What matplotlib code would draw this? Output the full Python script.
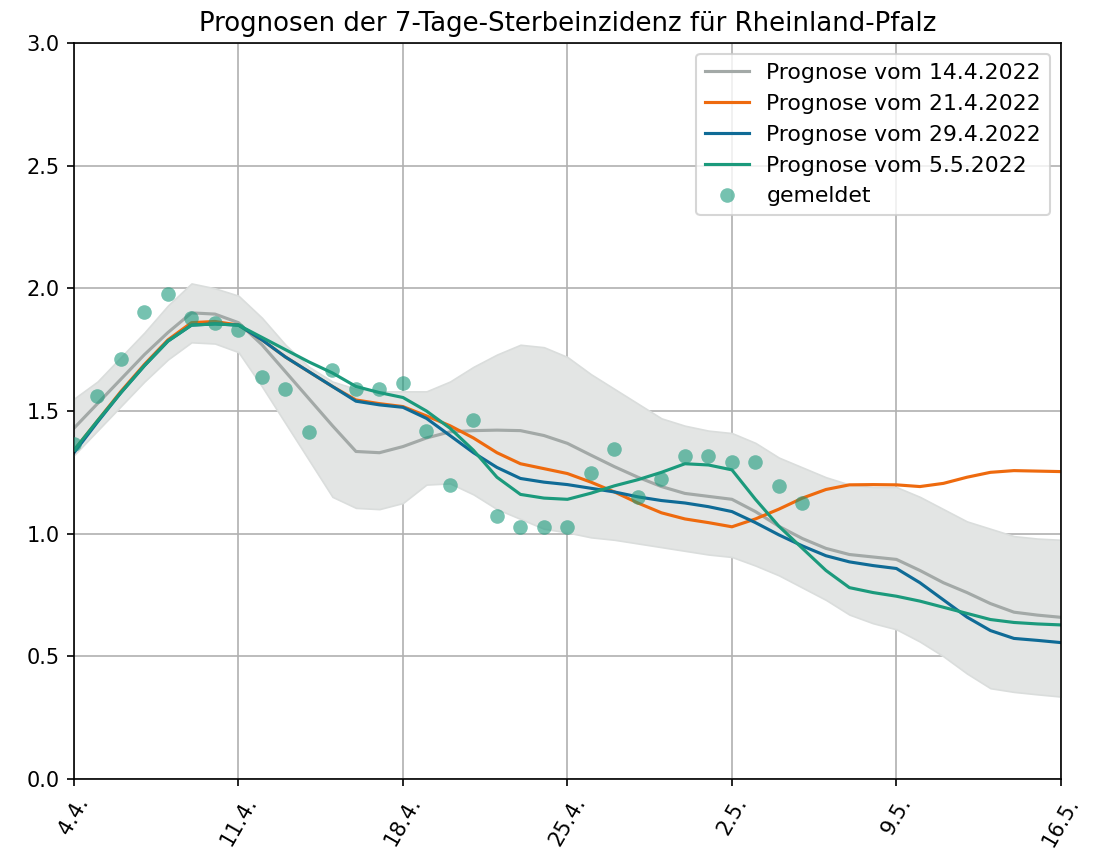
import numpy as np
import pandas as pd
import matplotlib
matplotlib.use("Agg")
import matplotlib.pyplot as plt

# days since 4.4.2022
start = pd.Timestamp("2022-04-04")
tick_labels = ["4.4.", "11.4.", "18.4.", "25.4.", "2.5.", "9.5.", "16.5."]

# gemeldete Werte (4.4. - 5.5.)
reported = [1.366, 1.56, 1.71, 1.905, 1.976, 1.88, 1.86, 1.83, 1.638, 1.589,
            1.416, 1.667, 1.589, 1.59, 1.613, 1.42, 1.197, 1.463, 1.073, 1.026,
            1.026, 1.026, 1.246, 1.345, 1.151, 1.222, 1.318, 1.318, 1.293, 1.293,
            1.195, 1.124]

prog_14 = [1.43, 1.53, 1.63, 1.73, 1.82, 1.90, 1.895, 1.86, 1.77, 1.66,
           1.55, 1.44, 1.335, 1.33, 1.355, 1.39, 1.415, 1.42, 1.422, 1.42,
           1.40, 1.368, 1.32, 1.273, 1.23, 1.192, 1.164, 1.152, 1.14, 1.09,
           1.03, 0.98, 0.94, 0.915, 0.905, 0.895, 0.85, 0.80, 0.76, 0.715,
           0.68, 0.668, 0.659]
prog_21 = [1.34, 1.46, 1.58, 1.69, 1.79, 1.86, 1.865, 1.85, 1.79, 1.72,
           1.66, 1.60, 1.545, 1.53, 1.518, 1.48, 1.44, 1.39, 1.33, 1.285,
           1.265, 1.245, 1.21, 1.17, 1.125, 1.085, 1.06, 1.045, 1.028, 1.06,
           1.10, 1.145, 1.18, 1.199, 1.20, 1.199, 1.192, 1.205, 1.23, 1.25,
           1.257, 1.255, 1.253]
prog_29 = [1.33, 1.455, 1.575, 1.685, 1.785, 1.85, 1.855, 1.85, 1.79, 1.72,
           1.66, 1.60, 1.54, 1.525, 1.515, 1.47, 1.40, 1.33, 1.27, 1.225,
           1.21, 1.20, 1.185, 1.17, 1.15, 1.135, 1.125, 1.11, 1.09, 1.045,
           0.995, 0.95, 0.91, 0.885, 0.87, 0.858, 0.80, 0.73, 0.66, 0.605,
           0.573, 0.565, 0.556]
prog_05 = [1.34, 1.46, 1.575, 1.685, 1.785, 1.85, 1.855, 1.85, 1.80, 1.75,
           1.70, 1.655, 1.60, 1.575, 1.555, 1.50, 1.43, 1.34, 1.23, 1.16,
           1.145, 1.14, 1.165, 1.195, 1.22, 1.25, 1.285, 1.28, 1.26, 1.14,
           1.03, 0.94, 0.85, 0.78, 0.76, 0.745, 0.725, 0.70, 0.675, 0.65,
           0.638, 0.632, 0.628]

# Unsicherheitsbereich der Prognose vom 14.4.
band_lo = [1.32, 1.42, 1.52, 1.62, 1.71, 1.78, 1.775, 1.74, 1.60, 1.45,
           1.30, 1.15, 1.105, 1.10, 1.125, 1.20, 1.205, 1.16, 1.10, 1.06,
           1.02, 1.005, 0.985, 0.975, 0.96, 0.945, 0.93, 0.915, 0.905, 0.87,
           0.83, 0.78, 0.73, 0.67, 0.635, 0.61, 0.56, 0.50, 0.43, 0.37,
           0.355, 0.345, 0.336]
band_hi = [1.55, 1.62, 1.72, 1.82, 1.93, 2.02, 2.00, 1.97, 1.88, 1.77,
           1.68, 1.62, 1.59, 1.58, 1.58, 1.58, 1.62, 1.68, 1.73, 1.77,
           1.76, 1.72, 1.65, 1.59, 1.53, 1.47, 1.44, 1.42, 1.41, 1.37,
           1.31, 1.27, 1.23, 1.20, 1.19, 1.19, 1.15, 1.10, 1.05, 1.02,
           0.99, 0.98, 0.975]

days = pd.date_range(start, periods=len(prog_14), freq="D")
days_rep = pd.date_range(start, periods=len(reported), freq="D")

c_gray = "#a3a9a7"
c_orange = "#ee6a0e"
c_blue = "#0f6b96"
c_green = "#1b9a7c"

fig = plt.figure(figsize=(1096 / 150, 855 / 150), dpi=150)
ax = fig.add_axes([0.0675, 0.0889, 0.9005, 0.8608])

ax.fill_between(days, band_lo, band_hi, color="#e3e5e4", edgecolor="#dadddc", linewidth=0.8, zorder=1)
ax.plot(days, prog_14, color=c_gray, lw=1.5, label="Prognose vom 14.4.2022", zorder=2)
ax.plot(days, prog_21, color=c_orange, lw=1.5, label="Prognose vom 21.4.2022", zorder=2)
ax.plot(days, prog_29, color=c_blue, lw=1.5, label="Prognose vom 29.4.2022", zorder=2)
ax.plot(days, prog_05, color=c_green, lw=1.5, label="Prognose vom 5.5.2022", zorder=2)
ax.plot(days_rep, reported, "o", color=c_green, alpha=0.6, ms=7, mec="none",
        label="gemeldet", zorder=3)

ax.set_xlim(days[0], days[-1])
ax.set_ylim(0, 3)
ticks = pd.date_range(start, periods=len(tick_labels), freq="7D")
ax.set_xticks(ticks)
ax.set_xticklabels(tick_labels, rotation=60)
ax.set_yticks(np.arange(0, 3.01, 0.5))
ax.grid(True)
ax.set_axisbelow(True)

ax.set_title("Prognosen der 7-Tage-Sterbeinzidenz für Rheinland-Pfalz", fontsize=12.5)
ax.legend(loc="upper right", fontsize=10.5)

fig.savefig("out.png", dpi=150)
